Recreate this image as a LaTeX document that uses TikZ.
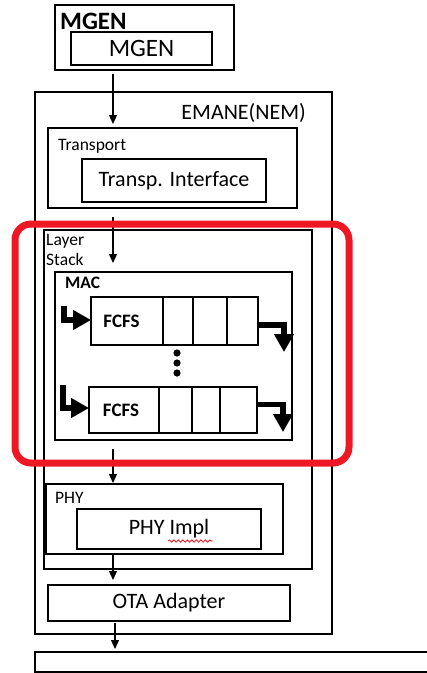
\documentclass[tikz,border=0pt]{standalone}
\usepackage{fontspec}
\setmainfont{Carlito}
\usetikzlibrary{positioning,arrows.meta,decorations.pathmorphing}
\definecolor{hilite}{RGB}{238,24,36}

\tikzset{
  box/.style={draw, line width=1.3pt, inner sep=0pt, outer sep=0pt},
  lbl/.style={inner sep=0pt, font=\fontsize{17.5}{20}\selectfont},
  big/.style={font=\fontsize{22}{26}\selectfont},
  flow/.style={line width=1.2pt, -{Triangle[width=8pt,length=9pt]}},
  qcell/.style={draw, line width=2.6pt, inner sep=0pt, outer sep=0pt, font=\bfseries\fontsize{19}{22}\selectfont},
  qarrow/.style={line width=5.5pt, line join=miter, -{Triangle[width=19pt,length=18pt]}},
}

\begin{document}
\begin{tikzpicture}[x=1pt,y=-1pt]
\useasboundingbox (0,0) rectangle (427,673);
% MGEN
\node[box, minimum width=179, minimum height=65] (mgenouter) at (144.5,37.5) {};
\node[anchor=west, inner sep=0pt, font=\bfseries\fontsize{25}{28}\selectfont] (mgentitle) at ([xshift=5pt,yshift=-16pt]mgenouter.north west) {MGEN};
\node[box, minimum width=141, minimum height=33, font=\fontsize{25}{28}\selectfont] (mgen) at (141.5,48.5) {MGEN};
% EMANE
\node[box, minimum width=297, minimum height=542] (emane) at (183.5,363) {};
\node[big, anchor=east, inner sep=0pt] (emanelbl) at ([xshift=-26pt,yshift=-21pt]emane.north east) {EMANE(NEM)};
\node[box, minimum width=249, minimum height=80] (transport) at (172.5,168) {};
\node[lbl, anchor=west] (transportlbl) at ([xshift=10pt,yshift=-18pt]transport.north west) {Transport};
\node[box, big, minimum width=184, minimum height=43] (transpif) at (174,180.5) {Transp. Interface};
% layer stack
\node[box, minimum width=268, minimum height=339] (layerstack) at (178,399.5) {};
\node[lbl, anchor=north west, align=left] (layerlbl) at ([xshift=2pt,yshift=-4pt]layerstack.north west) {Layer\\Stack};
\node[box, minimum width=237, minimum height=168] (mac) at (173.5,356) {};
\node[lbl, anchor=west, font=\bfseries\fontsize{17.5}{20}\selectfont] (maclbl) at ([xshift=10pt,yshift=-11pt]mac.north west) {MAC};
% queue 1
\node[qcell, minimum width=72, minimum height=48] (fcfsA) at (127,321) {\kern-11pt FCFS};
\node[qcell, minimum width=30, minimum height=48, right=0pt of fcfsA] (a1) {};
\node[qcell, minimum width=34, minimum height=48, right=0pt of a1] (a2) {};
\node[qcell, minimum width=31, minimum height=48, right=0pt of a2] (a3) {};
\draw[qarrow] ([xshift=-27pt,yshift=15pt]fcfsA.west) |- ([yshift=1pt]fcfsA.west);
\draw[qarrow] ([yshift=-4pt]a3.east) -| ([xshift=26pt,yshift=-31pt]a3.east);
% dots
\foreach \y in {353,363,373}
  \fill (177,\y) circle (3.6pt);
% queue 2
\node[qcell, minimum width=70, minimum height=46] (fcfsB) at (124,410) {\kern-6pt FCFS};
\node[qcell, minimum width=33, minimum height=46, right=0pt of fcfsB] (b1) {};
\node[qcell, minimum width=28, minimum height=46, right=0pt of b1] (b2) {};
\node[qcell, minimum width=37, minimum height=46, right=0pt of b2] (b3) {};
\draw[qarrow] ([xshift=-26pt,yshift=25pt]fcfsB.west) |- ([yshift=2pt]fcfsB.west);
\draw[qarrow] ([yshift=5.5pt]b3.east) -| ([xshift=26pt,yshift=-22pt]b3.east);
% PHY
\node[box, minimum width=237, minimum height=70] (phy) at (164.5,519) {};
\node[lbl, anchor=west] (phylbl) at ([xshift=9pt,yshift=-14pt]phy.north west) {PHY};
\node[box, big, minimum width=184, minimum height=40] (phyimpl) at (169,529) {PHY Impl};
\draw[hilite, line width=0.8pt, decorate, decoration={snake, amplitude=1.2pt, segment length=4.5pt}] (168,541) -- (213,541);
\node[box, big, minimum width=242, minimum height=36] (ota) at (169,603) {OTA Adapter};
\node[box, minimum width=415, minimum height=20] (chan) at (242.5,662) {};
% arrows
\coordinate (spine) at (113,0);
\coordinate (spinelow) at (115,0);
\draw[flow, shorten <=4pt, shorten >=4pt] (mgenouter.south -| spine) -- (transport.north -| spine);
\draw[flow, shorten <=9pt, shorten >=9pt] (transport.south -| spine) -- (mac.north -| spine);
\draw[flow, shorten <=9pt, shorten >=1pt] (mac.south -| spine) -- (phy.north -| spine);
\draw[flow, shorten >=5pt] (phy.south -| spine) -- (ota.north -| spine);
\draw[flow, shorten <=2pt, shorten >=3pt] (ota.south -| spinelow) -- (chan.north -| spinelow);
% highlight
\node[draw=hilite, line width=7pt, rounded corners=16pt, minimum width=334, minimum height=239] (focus) at (182,343.5) {};
\end{tikzpicture}
\end{document}
